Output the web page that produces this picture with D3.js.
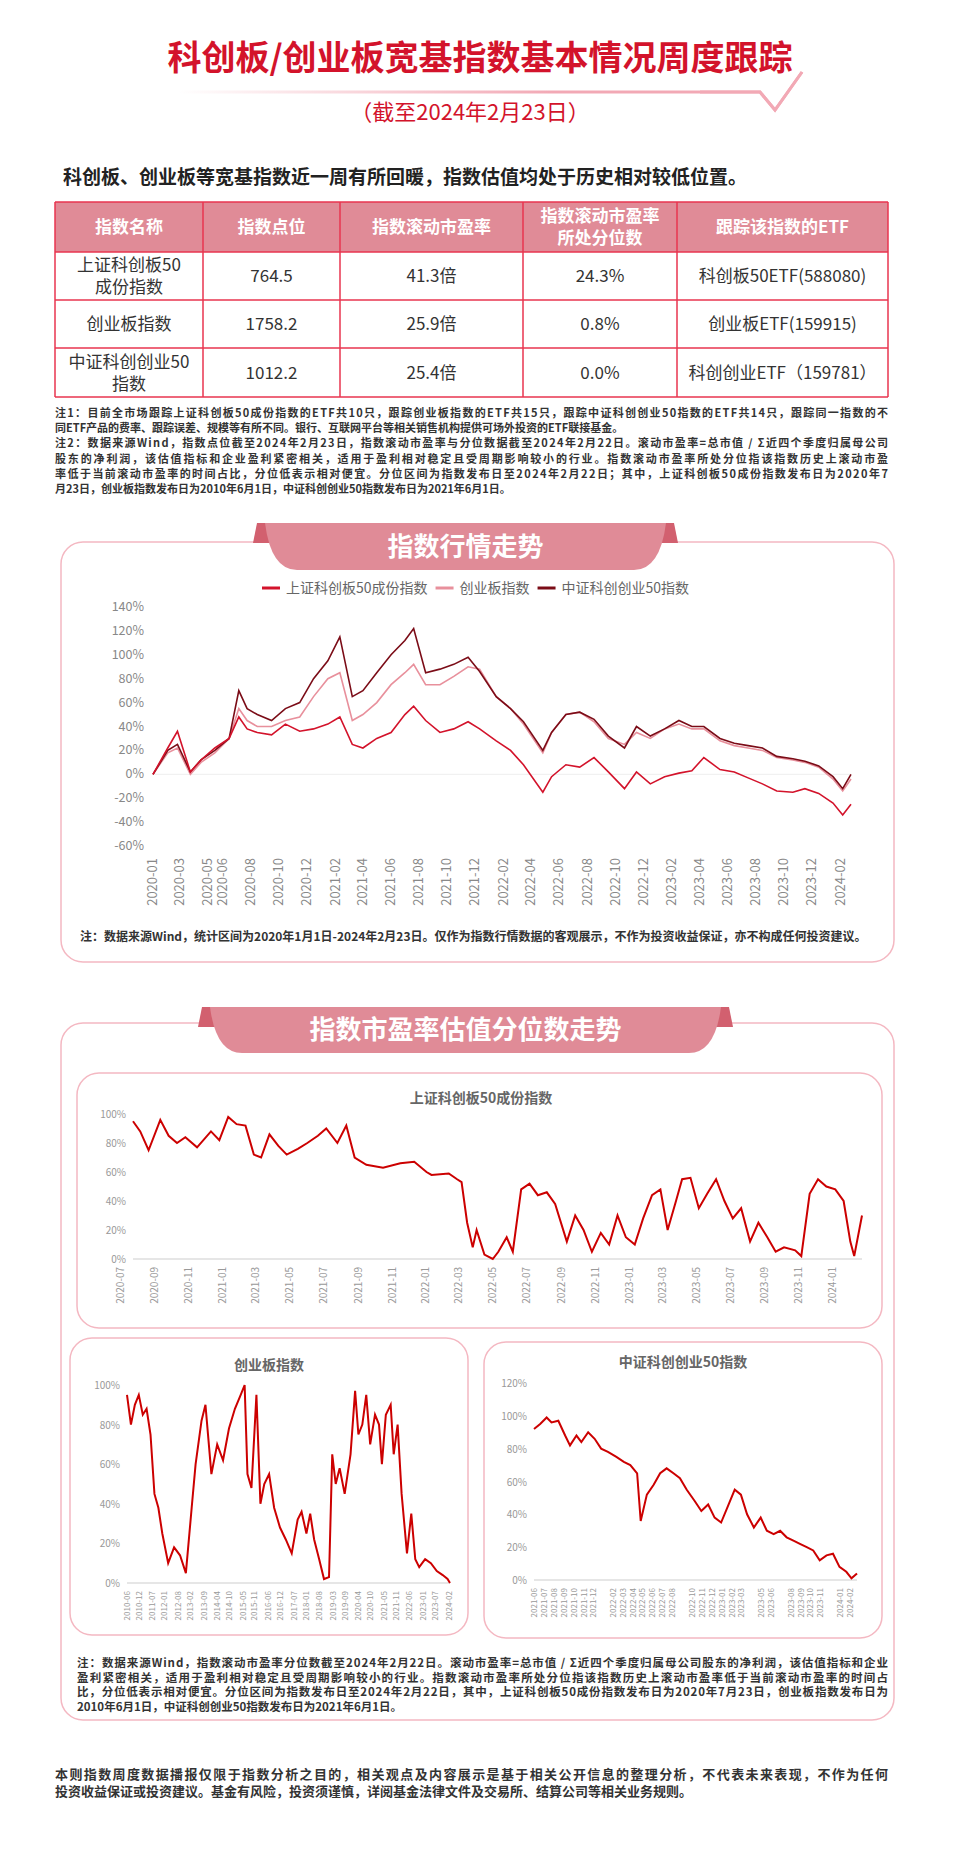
<!DOCTYPE html>
<html><head><meta charset="utf-8">
<script src="https://cdn.jsdelivr.net/npm/d3@7"></script>
<style>
body{margin:0;background:#fff;font-family:"Noto Sans CJK SC","Noto Sans",sans-serif;}
</style></head>
<body><svg id="page" width="960" height="1866"></svg>
<script>
// ---- data ----
const tableHead = ['指数名称', '指数点位', '指数滚动市盈率', ['指数滚动市盈率', '所处分位数'], '跟踪该指数的ETF'];
const tableNames = [['上证科创板50', '成份指数'], ['创业板指数'], ['中证科创创业50', '指数']];
const tablePoints = ['764.5', '1758.2', '1012.2'];
const tablePE = ['41.3倍', '25.9倍', '25.4倍'];
const tablePct = ['24.3%', '0.8%', '0.0%'];
const tableEtf = ['科创板50ETF(588080)', '创业板ETF(159915)', '科创创业ETF（159781）'];

const trendDates = ['2020-01-02','2020-02-03','2020-02-24','2020-03-23','2020-04-15','2020-05-15','2020-06-15','2020-07-06','2020-07-24','2020-08-15','2020-09-15','2020-10-15','2020-11-15','2020-12-15','2021-01-15','2021-02-10','2021-03-09','2021-04-01','2021-05-01','2021-06-01','2021-07-01','2021-07-20','2021-08-15','2021-09-15','2021-10-15','2021-11-15','2021-12-10','2022-01-15','2022-02-15','2022-03-15','2022-04-26','2022-05-15','2022-06-15','2022-07-15','2022-08-15','2022-09-15','2022-10-20','2022-11-15','2022-12-15','2023-01-15','2023-02-15','2023-03-15','2023-04-10','2023-05-15','2023-06-15','2023-07-15','2023-08-15','2023-09-15','2023-10-20','2023-11-15','2023-12-15','2024-01-15','2024-02-05','2024-02-23'];
const kc50Trend = [0,22,36,2,12,22,30,48,38,35,33,42,36,38,42,48,25,22,30,35,50,57,45,35,38,44,38,28,20,8,-15,-2,8,6,14,2,-12,2,-8,-2,1,3,14,4,2,-3,-8,-14,-15,-12,-16,-24,-34,-25];
const cybTrend  = [0,18,22,0,10,18,30,55,45,40,40,45,48,65,80,85,45,50,60,75,85,92,75,75,82,90,88,65,55,42,18,35,50,52,44,30,25,35,30,38,42,38,38,28,24,22,20,14,12,10,6,-4,-14,-4];
const kccyTrend = [0,20,25,2,12,20,30,70,55,50,45,55,60,80,95,115,65,70,85,100,112,122,85,88,92,98,86,65,55,44,20,35,50,52,46,32,22,40,32,38,45,40,40,30,26,24,22,15,13,11,7,-2,-12,0];
const trendTicks = ['2020-01','2020-03','2020-05','2020-06','2020-08','2020-10','2020-12','2021-02','2021-04','2021-06','2021-08','2021-10','2021-12','2022-02','2022-04','2022-06','2022-08','2022-10','2022-12','2023-02','2023-04','2023-06','2023-08','2023-10','2023-12','2024-02'];
const trendYTicks = [140,120,100,80,60,40,20,0,-20,-40,-60];

const kcPctDates = ['2020-07-23','2020-08-05','2020-08-20','2020-09-10','2020-09-25','2020-10-10','2020-10-25','2020-11-15','2020-12-10','2020-12-25','2021-01-10','2021-01-25','2021-02-10','2021-02-25','2021-03-10','2021-03-25','2021-04-10','2021-04-25','2021-05-15','2021-06-01','2021-06-20','2021-07-05','2021-07-25','2021-08-10','2021-08-25','2021-09-15','2021-10-15','2021-11-15','2021-12-10','2022-01-01','2022-01-10','2022-02-10','2022-02-25','2022-03-05','2022-03-15','2022-03-25','2022-04-01','2022-04-15','2022-04-30','2022-05-10','2022-05-25','2022-06-05','2022-06-20','2022-07-05','2022-07-20','2022-08-05','2022-08-20','2022-09-10','2022-09-25','2022-10-10','2022-10-25','2022-11-10','2022-11-25','2022-12-10','2022-12-25','2023-01-10','2023-01-25','2023-02-10','2023-02-25','2023-03-10','2023-03-25','2023-04-05','2023-04-20','2023-05-05','2023-05-20','2023-06-05','2023-06-20','2023-07-05','2023-07-20','2023-08-05','2023-08-20','2023-09-05','2023-09-20','2023-10-05','2023-10-25','2023-11-05','2023-11-20','2023-12-05','2023-12-20','2024-01-05','2024-01-20','2024-02-01','2024-02-08','2024-02-22'];
const kcPctValues = [95,88,75,96,85,80,84,77,88,82,98,93,92,72,70,86,78,72,76,80,85,90,80,92,70,65,63,66,67,60,58,59,55,53,25,8,20,3,0,5,15,5,48,52,44,46,38,12,30,20,5,18,10,30,15,10,28,44,48,20,40,55,56,35,45,55,40,28,35,12,25,15,5,8,6,2,45,55,50,48,40,12,2,30];
const cybPctDates = ['2010-06-01','2010-08-01','2010-10-01','2010-12-01','2011-02-01','2011-04-01','2011-06-01','2011-08-01','2011-10-01','2011-12-01','2012-03-01','2012-06-01','2012-09-01','2012-12-01','2013-03-01','2013-05-01','2013-08-01','2013-10-01','2014-01-01','2014-04-01','2014-07-01','2014-10-01','2015-01-01','2015-04-01','2015-06-01','2015-07-15','2015-09-15','2015-12-01','2016-02-01','2016-04-01','2016-06-15','2016-09-01','2016-12-01','2017-03-01','2017-06-01','2017-09-01','2017-11-01','2018-01-15','2018-03-15','2018-05-15','2018-08-01','2018-10-15','2019-01-01','2019-02-20','2019-04-15','2019-06-15','2019-09-01','2019-12-01','2020-02-10','2020-04-01','2020-06-01','2020-08-01','2020-10-01','2020-12-15','2021-02-15','2021-04-01','2021-06-01','2021-08-15','2021-10-01','2021-12-01','2022-02-01','2022-04-25','2022-07-01','2022-09-01','2022-11-01','2023-02-01','2023-05-01','2023-08-01','2023-11-01','2024-01-15','2024-02-22'];
const cybPctValues = [95,80,90,95,85,88,75,45,38,25,10,18,14,5,38,60,82,90,55,70,62,78,88,95,100,55,48,95,40,50,55,38,28,22,15,32,36,25,35,22,12,2,3,65,50,58,45,65,97,75,80,95,70,85,80,60,85,90,65,80,45,15,35,12,8,12,10,6,4,2,0];
const kccyPctDates = ['2021-06-01','2021-06-20','2021-07-10','2021-07-25','2021-08-15','2021-09-05','2021-09-20','2021-10-10','2021-10-25','2021-11-15','2021-12-05','2021-12-25','2022-01-15','2022-02-10','2022-03-05','2022-03-25','2022-04-15','2022-04-26','2022-05-15','2022-06-05','2022-06-25','2022-07-15','2022-08-05','2022-08-25','2022-09-15','2022-10-10','2022-10-30','2022-11-20','2022-12-10','2022-12-30','2023-01-20','2023-02-10','2023-03-01','2023-03-20','2023-04-10','2023-05-01','2023-05-20','2023-06-10','2023-06-30','2023-07-20','2023-08-10','2023-08-30','2023-09-20','2023-10-10','2023-10-30','2023-11-20','2023-12-10','2023-12-30','2024-01-20','2024-02-05','2024-02-22'];
const kccyPctValues = [92,95,99,96,97,88,82,88,84,90,86,80,78,75,72,70,65,36,52,58,65,68,65,62,55,48,42,46,38,35,45,55,52,40,32,38,30,28,30,26,24,22,20,18,12,15,16,8,5,1,4];
const kcTicks = ['2020-07','2020-09','2020-11','2021-01','2021-03','2021-05','2021-07','2021-09','2021-11','2022-01','2022-03','2022-05','2022-07','2022-09','2022-11','2023-01','2023-03','2023-05','2023-07','2023-09','2023-11','2024-01'];
const cybTicks = ['2010-06','2010-12','2011-07','2012-01','2012-08','2013-02','2013-09','2014-04','2014-10','2015-05','2015-11','2016-06','2016-12','2017-07','2018-01','2018-08','2019-03','2019-09','2020-04','2020-10','2021-05','2021-11','2022-06','2023-01','2023-07','2024-02'];
const kccyTicks = ['2021-06','2021-07','2021-08','2021-09','2021-10','2021-11','2021-12','2022-02','2022-03','2022-04','2022-05','2022-06','2022-07','2022-08','2022-10','2022-11','2022-12','2023-01','2023-02','2023-03','2023-05','2023-06','2023-08','2023-09','2023-10','2023-11','2024-01','2024-02'];

const notes1 = ['注1：目前全市场跟踪上证科创板50成份指数的ETF共10只，跟踪创业板指数的ETF共15只，跟踪中证科创创业50指数的ETF共14只，跟踪同一指数的不',
'同ETF产品的费率、跟踪误差、规模等有所不同。银行、互联网平台等相关销售机构提供可场外投资的ETF联接基金。',
'注2：数据来源Wind，指数点位截至2024年2月23日，指数滚动市盈率与分位数据截至2024年2月22日。滚动市盈率=总市值 / Σ近四个季度归属母公司',
'股东的净利润，该估值指标和企业盈利紧密相关，适用于盈利相对稳定且受周期影响较小的行业。指数滚动市盈率所处分位指该指数历史上滚动市盈',
'率低于当前滚动市盈率的时间占比，分位低表示相对便宜。分位区间为指数发布日至2024年2月22日；其中，上证科创板50成份指数发布日为2020年7',
'月23日，创业板指数发布日为2010年6月1日，中证科创创业50指数发布日为2021年6月1日。'];
const notes2 = ['注：数据来源Wind，指数滚动市盈率分位数截至2024年2月22日。滚动市盈率=总市值 / Σ近四个季度归属母公司股东的净利润，该估值指标和企业',
'盈利紧密相关，适用于盈利相对稳定且受周期影响较小的行业。指数滚动市盈率所处分位指该指数历史上滚动市盈率低于当前滚动市盈率的时间占',
'比，分位低表示相对便宜。分位区间为指数发布日至2024年2月22日，其中，上证科创板50成份指数发布日为2020年7月23日，创业板指数发布日为',
'2010年6月1日，中证科创创业50指数发布日为2021年6月1日。'];
const footer = ['本则指数周度数据播报仅限于指数分析之目的，相关观点及内容展示是基于相关公开信息的整理分析，不代表未来表现，不作为任何',
'投资收益保证或投资建议。基金有风险，投资须谨慎，详阅基金法律文件及交易所、结算公司等相关业务规则。'];

// ---- drawing ----
const RED = '#d3132b', PINK = '#e8909c', TAB = '#e08b97', BORDER = '#f4b8c2';
const svg = d3.select('#page');
const parse = d3.timeParse('%Y-%m-%d');
const parseM = d3.timeParse('%Y-%m');

// title
svg.append('text').attr('x', 480).attr('y', 70).attr('text-anchor', 'middle')
  .attr('font-size', 34).attr('font-weight', 'bold').attr('fill', RED)
  .text('科创板/创业板宽基指数基本情况周度跟踪');
const grad = svg.append('defs').append('linearGradient').attr('id', 'tl');
grad.append('stop').attr('offset', '0%').attr('stop-color', '#fff');
grad.append('stop').attr('offset', '60%').attr('stop-color', '#f2a9b5');
svg.append('path').attr('d', 'M178,92 L760,92 L775,110 L802,72')
  .attr('fill', 'none').attr('stroke', 'url(#tl)').attr('stroke-width', 3);
svg.append('path').attr('d', 'M700,92 L760,92 L775,110 L802,72')
  .attr('fill', 'none').attr('stroke', '#f2a9b5').attr('stroke-width', 3);
svg.append('text').attr('x', 470).attr('y', 120).attr('text-anchor', 'middle')
  .attr('font-size', 22).attr('fill', RED).text('（截至2024年2月23日）');

svg.append('text').attr('x', 63).attr('y', 184).attr('font-size', 19).attr('font-weight', 'bold')
  .attr('fill', '#222').text('科创板、创业板等宽基指数近一周有所回暖，指数估值均处于历史相对较低位置。');

// table
const colX = [55, 203, 340, 523, 677, 888];
const rowY = [202, 252, 300, 348, 397];
svg.append('rect').attr('x', 55).attr('y', 202).attr('width', 833).attr('height', 50).attr('fill', TAB);
const rows = tableNames.map((n, i) => [n, [tablePoints[i]], [tablePE[i]], [tablePct[i]], [tableEtf[i]]]);
const cellText = (lines, cx, cy, color, bold) => {
  lines.forEach((t, k) => svg.append('text').attr('x', cx).attr('y', cy + (k - (lines.length - 1) / 2) * 22 + 6)
    .attr('text-anchor', 'middle').attr('font-size', 17).attr('font-weight', bold ? 'bold' : 'normal')
    .attr('fill', color).text(t));
};
tableHead.forEach((h, j) => cellText([].concat(h), (colX[j] + colX[j + 1]) / 2, 227, '#fff', true));
rows.forEach((r, i) => r.forEach((c, j) => cellText(c, (colX[j] + colX[j + 1]) / 2, (rowY[i + 1] + rowY[i + 2]) / 2, '#333', false)));
rowY.forEach(y => svg.append('line').attr('x1', 55).attr('x2', 888).attr('y1', y).attr('y2', y).attr('stroke', '#e8354f').attr('stroke-width', 1.5));
colX.forEach(x => svg.append('line').attr('x1', x).attr('x2', x).attr('y1', 202).attr('y2', 397).attr('stroke', '#e8354f').attr('stroke-width', 1.5));

// justify: which lines are stretched to the full width
const paragraph = (lines, x, y, dy, size, color, full) => lines.forEach((t, k) =>
  svg.append('text').attr('x', x).attr('y', y + k * dy).attr('font-size', size).attr('font-weight', 'bold')
    .attr('fill', color).attr('textLength', full.includes(k) ? 833 - (x - 55) : null).text(t));
paragraph(notes1, 55, 417, 15.2, 11, '#333', [0, 2, 3, 4]);

// panel with tab
function panel(x0, y0, x1, y1, tabL, tabR, tabTop, tabBot, title) {
  svg.append('rect').attr('x', x0).attr('y', y0).attr('width', x1 - x0).attr('height', y1 - y0)
    .attr('rx', 22).attr('fill', '#fff').attr('stroke', BORDER).attr('stroke-width', 1.5);
  svg.append('path').attr('d', `M${tabL},${tabTop} L${tabL + 14},${tabTop} L${tabL + 14},${tabTop + 20} L${tabL - 4},${tabTop + 20}Z`).attr('fill', '#d2606f');
  svg.append('path').attr('d', `M${tabR},${tabTop} L${tabR - 14},${tabTop} L${tabR - 14},${tabTop + 20} L${tabR + 4},${tabTop + 20}Z`).attr('fill', '#d2606f');
  const h = tabBot - tabTop;
  svg.append('path').attr('d', `M${tabL + 8},${tabTop} L${tabR - 8},${tabTop} Q${tabR - 14},${tabBot} ${tabR - 40},${tabBot} L${tabL + 40},${tabBot} Q${tabL + 14},${tabBot} ${tabL + 8},${tabTop}Z`)
    .attr('fill', TAB);
  svg.append('text').attr('x', (tabL + tabR) / 2).attr('y', tabTop + h / 2 + 9).attr('text-anchor', 'middle')
    .attr('font-size', 26).attr('font-weight', 'bold').attr('fill', '#fff').text(title);
}

// ---- panel 1: trend ----
panel(61, 542, 894, 962, 257, 674, 523, 570, '指数行情走势');
const series = [
  {name: '上证科创板50成份指数', vals: kc50Trend, color: RED},
  {name: '创业板指数', vals: cybTrend, color: PINK},
  {name: '中证科创创业50指数', vals: kccyTrend, color: '#7b0c17'}
];
const tx = d3.scaleTime().domain([parse('2020-01-02'), parse('2024-02-23')]).range([153, 851]);
const ty = d3.scaleLinear().domain([-60, 140]).range([846, 607]);
const tdates = trendDates.map(parse);
svg.append('line').attr('x1', 153).attr('x2', 851).attr('y1', ty(0)).attr('y2', ty(0)).attr('stroke', '#eee');
svg.append('g').selectAll('text').data(trendYTicks).join('text')
  .attr('x', 144).attr('y', d => ty(d) + 4).attr('text-anchor', 'end').attr('font-size', 12.5).attr('fill', '#888').text(d => d + '%');
svg.append('g').selectAll('text').data(trendTicks).join('text')
  .attr('transform', d => `translate(${tx(parseM(d)) + 4},858) rotate(-90)`).attr('text-anchor', 'end')
  .attr('font-size', 13).attr('fill', '#888').text(d => d);
const tline = d3.line().x((d, i) => tx(tdates[i])).y(d => ty(d));
[series[1], series[2], series[0]].forEach(s => svg.append('path').attr('d', tline(s.vals))
  .attr('fill', 'none').attr('stroke', s.color).attr('stroke-width', 1.6));
let lx = 262;
series.forEach(s => {
  svg.append('line').attr('x1', lx).attr('x2', lx + 18).attr('y1', 588).attr('y2', 588).attr('stroke', s.color).attr('stroke-width', 3);
  const t = svg.append('text').attr('x', lx + 24).attr('y', 593).attr('font-size', 14).attr('fill', '#666').text(s.name);
  lx += 24 + t.node().getComputedTextLength() + 8;
});
svg.append('text').attr('x', 80).attr('y', 941).attr('font-size', 12).attr('font-weight', 'bold').attr('fill', '#333')
  .text('注：数据来源Wind，统计区间为2020年1月1日-2024年2月23日。仅作为指数行情数据的客观展示，不作为投资收益保证，亦不构成任何投资建议。');

// ---- panel 2: percentiles ----
panel(61, 1023, 894, 1720, 202, 729, 1007, 1053, '指数市盈率估值分位数走势');

function pctChart(o) {
  svg.append('rect').attr('x', o.box[0]).attr('y', o.box[1]).attr('width', o.box[2] - o.box[0]).attr('height', o.box[3] - o.box[1])
    .attr('rx', 22).attr('fill', '#fff').attr('stroke', BORDER).attr('stroke-width', 1.5);
  svg.append('text').attr('x', o.titleX).attr('y', o.titleY).attr('text-anchor', 'middle').attr('font-size', o.tsize)
    .attr('font-weight', 'bold').attr('fill', '#666').text(o.title);
  const x = d3.scaleTime().domain([parse(o.dates[0]), parse(o.dates[o.dates.length - 1])]).range(o.xr);
  const y = d3.scaleLinear().domain([0, o.ymax]).range(o.yr);
  svg.append('line').attr('x1', o.xr[0]).attr('x2', o.xr[1]).attr('y1', o.yr[0]).attr('y2', o.yr[0]).attr('stroke', '#e6e6e6').attr('stroke-width', 2);
  svg.append('g').selectAll('text').data(d3.range(0, o.ymax + 1, 20)).join('text')
    .attr('x', o.xr[0] - 7).attr('y', d => y(d) + 4).attr('text-anchor', 'end').attr('font-size', 10).attr('fill', '#999').text(d => d + '%');
  svg.append('g').selectAll('text').data(o.ticks).join('text')
    .attr('transform', d => `translate(${x(parseM(d)) + 3},${o.yr[0] + 8}) rotate(-90)`).attr('text-anchor', 'end')
    .attr('font-size', o.fs).attr('fill', '#999').text(d => d);
  const ds = o.dates.map(parse);
  svg.append('path').attr('d', d3.line().x((d, i) => x(ds[i])).y(d => y(d))(o.vals))
    .attr('fill', 'none').attr('stroke', '#cc0000').attr('stroke-width', 2);
}
pctChart({box: [77, 1073, 882, 1328], title: '上证科创板50成份指数', titleX: 481, titleY: 1103, tsize: 14,
  dates: kcPctDates, vals: kcPctValues, ticks: kcTicks, xr: [133, 862], yr: [1259, 1114], ymax: 100, fs: 10});
pctChart({box: [70, 1338, 468, 1635], title: '创业板指数', titleX: 269, titleY: 1370, tsize: 14,
  dates: cybPctDates, vals: cybPctValues, ticks: cybTicks, xr: [127, 450], yr: [1583, 1385], ymax: 100, fs: 8});
pctChart({box: [484, 1342, 882, 1638], title: '中证科创创业50指数', titleX: 683, titleY: 1367, tsize: 14,
  dates: kccyPctDates, vals: kccyPctValues, ticks: kccyTicks, xr: [534, 857], yr: [1580, 1383], ymax: 120, fs: 8});

paragraph(notes2, 77, 1667, 14.6, 11.5, '#333', [0, 1, 2]);
paragraph(footer, 55, 1779, 17, 13, '#333', [0]);
</script></body></html>
